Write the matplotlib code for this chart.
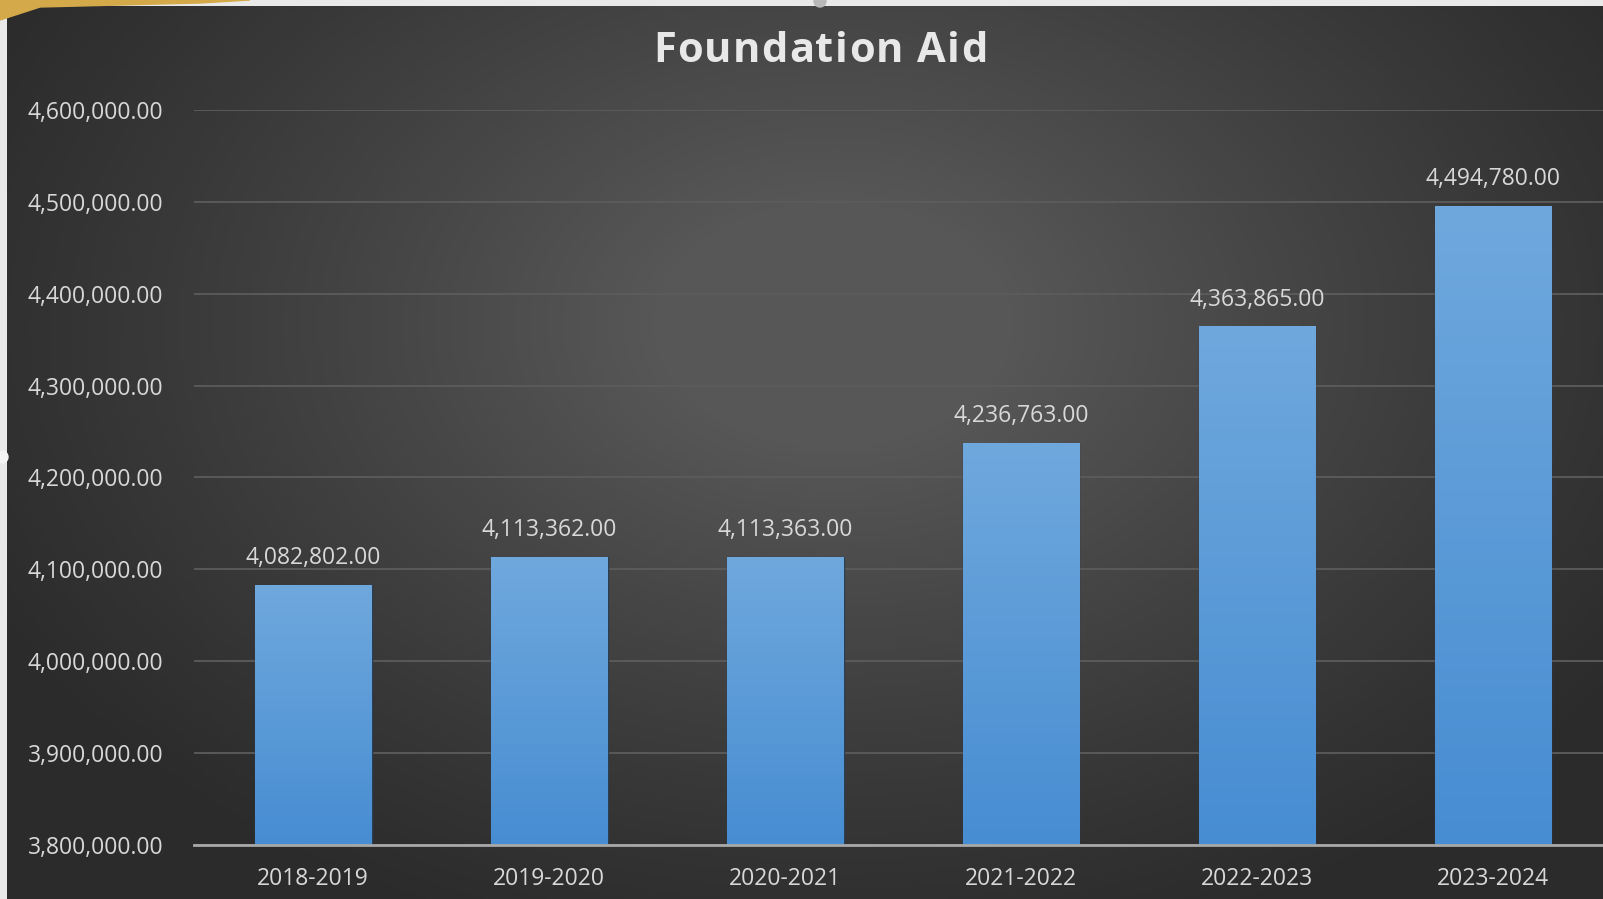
import numpy as np
import matplotlib
matplotlib.use("Agg")
import matplotlib.pyplot as plt
from matplotlib.colors import LinearSegmentedColormap
from matplotlib.patches import Polygon, Rectangle, Circle
from matplotlib.ticker import FuncFormatter

# foundation aid by school year
years = ["2018-2019", "2019-2020", "2020-2021", "2021-2022", "2022-2023", "2023-2024"]
aid = [4082802.00, 4113362.00, 4113363.00, 4236763.00, 4363865.00, 4494780.00]
y_ticks = [3800000, 3900000, 4000000, 4100000, 4200000, 4300000, 4400000, 4500000, 4600000]

W, H = 1603, 899
plt.rcParams["font.family"] = ["Open Sans", "DejaVu Sans"]
fig = plt.figure(figsize=(W / 100, H / 100), dpi=100)

# backdrop: light slide edge, dark panel with a soft radial glow
bg = fig.add_axes([0, 0, 1, 1], zorder=-2)
bg.add_patch(Rectangle((0, 0), W, H, color="#e9e9e9", zorder=0))
gx, gy = np.meshgrid(np.linspace(0, W, 400), np.linspace(0, H, 225))
r = np.sqrt(((gx - 830) / 1050) ** 2 + ((gy - 320) / 720) ** 2)
glow = np.clip(1 - r, 0, 1) ** 1.2
panel = LinearSegmentedColormap.from_list("panel", ["#2b2b2b", "#575757"])
bg.imshow(glow, cmap=panel, extent=[7, W, H, 6], aspect="auto", vmin=0.05, vmax=0.8,
          zorder=1)
bg.add_patch(Polygon([[0, 0], [250, 0], [200, 3], [120, 5], [40, 7], [0, 20]],
                     closed=True, color="#d3a94a", zorder=2))
bg.add_patch(Circle((820, 1), 6, color="#b8b8b8", zorder=2))
bg.add_patch(Circle((2, 457), 6, color="#f4f4f4", zorder=2))
bg.set_xlim(0, W)
bg.set_ylim(H, 0)
bg.axis("off")

ax = fig.add_axes([194 / W, 54 / H, 1 - 194 / W, (845 - 110) / H])
ax.set_facecolor("none")
x = np.arange(len(years))
bars = ax.bar(x, aid, width=0.495, color="#5a9ad8",
              edgecolor="#2b3e52", linewidth=1.0, zorder=2)

# vertical gradient fill inside each bar
grad = LinearSegmentedColormap.from_list("bar", ["#478dd2", "#6fa8dd"])
ramp = np.linspace(0, 1, 256).reshape(-1, 1)
for b in bars:
    x0 = b.get_x()
    ax.imshow(ramp, cmap=grad, origin="lower", aspect="auto", zorder=3,
              extent=[x0, x0 + b.get_width(), 3800000, b.get_height()])
ax.set_xlim(-0.505, 5.466)
ax.set_ylim(3800000, 4600000)

for xi, v in zip(x, aid):
    ax.annotate(f"{v:,.2f}", (xi, v), xytext=(0, 11), textcoords="offset points",
                ha="center", va="bottom", color="#d8d8d8", fontsize=16.5)

ax.set_yticks(y_ticks)
ax.yaxis.set_major_formatter(FuncFormatter(lambda v, p: f"{v:,.2f}"))
ax.set_xticks(x)
ax.set_xticklabels(years)
ax.tick_params(axis="both", length=0, labelsize=16.5, colors="#d8d8d8")
ax.tick_params(axis="y", pad=22)
ax.tick_params(axis="x", pad=16)
ax.grid(axis="y", color="#5c5c5c", linewidth=1.3, zorder=0)
ax.set_axisbelow(True)
for s in ["top", "right", "left"]:
    ax.spines[s].set_visible(False)
ax.spines["bottom"].set_color("#a8a8a8")
ax.spines["bottom"].set_linewidth(2)
ax.spines["bottom"].set_zorder(4)


def spaced_title(s, xc, yc, size, span):
    # lay the title out letter by letter so it fills a given pixel span
    rend = fig.canvas.get_renderer()
    widths = []
    for ch in s:
        if ch == " ":
            widths.append(size * 0.26 * fig.dpi / 72)
            continue
        t = fig.text(0, 0, ch, fontsize=size, fontweight="bold")
        widths.append(t.get_window_extent(rend).width)
        t.remove()
    gap = (span - sum(widths)) / (len(s) - 1)
    xp = xc - span / 2
    for ch, w in zip(s, widths):
        fig.text(xp / W, 1 - yc / H, ch, ha="left", va="center", fontsize=size,
                 fontweight="bold", color="#e8e8e8")
        xp += w + gap


spaced_title("Foundation Aid", 820, 52, 30, 334)

fig.savefig("out.png", dpi=100)
